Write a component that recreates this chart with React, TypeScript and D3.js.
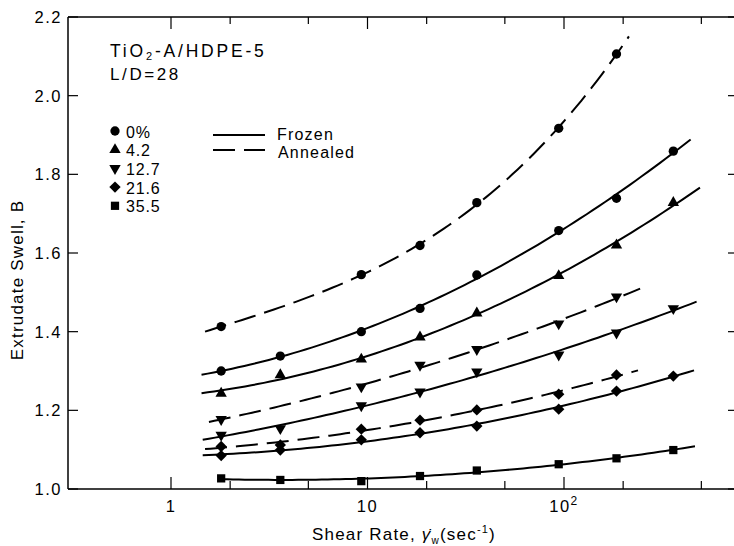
import React from 'react';
import * as d3 from 'd3';

// ---- data ----
const ratesAll = [1.8, 3.6, 9.3, 18.5, 36, 94, 185, 360];
const ratesAnnealed = [1.8, 9.3, 18.5, 36, 94, 185];
const ratesAnnealed21 = [1.8, 3.6, 9.3, 18.5, 36, 94, 185];

const annealed0 = [1.413, 1.545, 1.619, 1.728, 1.917, 2.106];
const frozen0 = [1.3, 1.338, 1.4, 1.459, 1.544, 1.657, 1.739, 1.859];
const frozen4 = [1.243, 1.29, 1.33, 1.386, 1.447, 1.542, 1.62, 1.728];
const annealed12 = [1.177, 1.26, 1.315, 1.355, 1.42, 1.489];
const frozen12 = [1.137, 1.154, 1.212, 1.247, 1.298, 1.341, 1.397, 1.459];
const annealed21 = [1.108, 1.112, 1.152, 1.175, 1.201, 1.241, 1.29];
const frozen21 = [1.085, 1.099, 1.125, 1.143, 1.16, 1.203, 1.249, 1.287];
const frozen35 = [1.027, 1.023, 1.02, 1.033, 1.047, 1.063, 1.078, 1.099];

// fitted-curve extents (shear rate where each drawn curve begins / ends) and fit degree
const curveStart = [1.49, 1.43, 1.43, 1.56, 1.45, 1.49, 1.45, 1.8];
const curveEnd = [214, 441, 492, 244, 473, 238, 459, 464];
const fitDegree = [3, 2, 2, 2, 2, 2, 2, 2];

const legendLabels = ['0%', '4.2', '12.7', '21.6', '35.5'];
const legendShapes = ['circle', 'up', 'down', 'diamond', 'square'];

const xMajorTicks = [1, 10, 100];
const xMinorTicks = [2, 5, 20, 50, 200, 500];
const yTicks = [1.0, 1.2, 1.4, 1.6, 1.8, 2.0, 2.2];

type Series = { xs: number[]; ys: number[]; shape: string; dashed: boolean };
const series: Series[] = [
  { xs: ratesAnnealed, ys: annealed0, shape: 'circle', dashed: true },
  { xs: ratesAll, ys: frozen0, shape: 'circle', dashed: false },
  { xs: ratesAll, ys: frozen4, shape: 'up', dashed: false },
  { xs: ratesAnnealed, ys: annealed12, shape: 'down', dashed: true },
  { xs: ratesAll, ys: frozen12, shape: 'down', dashed: false },
  { xs: ratesAnnealed21, ys: annealed21, shape: 'diamond', dashed: true },
  { xs: ratesAll, ys: frozen21, shape: 'diamond', dashed: false },
  { xs: ratesAll, ys: frozen35, shape: 'square', dashed: false },
];

// ---- layout ----
const W = 734;
const H = 546;
const left = 68;
const right = 737;
const top = 17;
const bottom = 489;
const FONT = '"Liberation Sans", Arial, sans-serif';

const x = d3
  .scaleLog()
  .domain([Math.pow(10, (left - 171) / 196.5), Math.pow(10, (right - 171) / 196.5)])
  .range([left, right]);
const y = d3.scaleLinear().domain([1.0, 2.2]).range([bottom, top]);

// least-squares polynomial fit in log10(x)
function polyfit(us: number[], vs: number[], deg: number): number[] {
  const n = deg + 1;
  const A: number[][] = Array.from({ length: n }, () => new Array(n + 1).fill(0));
  for (let k = 0; k < us.length; k++) {
    for (let i = 0; i < n; i++) {
      for (let j = 0; j < n; j++) A[i][j] += Math.pow(us[k], i + j);
      A[i][n] += vs[k] * Math.pow(us[k], i);
    }
  }
  for (let i = 0; i < n; i++) {
    let p = i;
    for (let r = i + 1; r < n; r++) if (Math.abs(A[r][i]) > Math.abs(A[p][i])) p = r;
    [A[i], A[p]] = [A[p], A[i]];
    for (let r = 0; r < n; r++) {
      if (r === i) continue;
      const f = A[r][i] / A[i][i];
      for (let c = i; c <= n; c++) A[r][c] -= f * A[i][c];
    }
  }
  return A.map((row, i) => row[n] / A[i][i]);
}

function symbolPath(shape: string): { d: string; rot: number } {
  switch (shape) {
    case 'circle':
      return { d: d3.symbol(d3.symbolCircle, 68)() as string, rot: 0 };
    case 'up':
      return { d: d3.symbol(d3.symbolTriangle, 56)() as string, rot: 0 };
    case 'down':
      return { d: d3.symbol(d3.symbolTriangle, 56)() as string, rot: 180 };
    case 'diamond':
      return { d: d3.symbol(d3.symbolSquare, 64)() as string, rot: 45 };
    default:
      return { d: d3.symbol(d3.symbolSquare, 68)() as string, rot: 0 };
  }
}

function Marker({ shape, cx, cy }: { shape: string; cx: number; cy: number }) {
  const s = symbolPath(shape);
  return <path d={s.d} transform={`translate(${cx},${cy}) rotate(${s.rot})`} fill="#000" />;
}

export default function App() {
  const line = d3
    .line<[number, number]>()
    .x((d) => x(d[0]))
    .y((d) => y(d[1]))
    .curve(d3.curveLinear);

  const curves = series.map((s, i) => {
    const us = s.xs.map((v) => Math.log10(v));
    const coef = polyfit(us, s.ys, fitDegree[i]);
    const u0 = Math.log10(curveStart[i]);
    const u1 = Math.log10(curveEnd[i]);
    const pts: [number, number][] = d3.range(0, 81).map((k) => {
      const u = u0 + ((u1 - u0) * k) / 80;
      const v = coef.reduce((acc, c, p) => acc + c * Math.pow(u, p), 0);
      return [Math.pow(10, u), v];
    });
    return line(pts) as string;
  });

  const textStyle = { fontFamily: FONT, fill: '#000' } as React.CSSProperties;
  const rowY = (i: number) => 131 + i * 18.7;

  return (
    <svg
      width={W}
      height={H}
      viewBox={`0 0 ${W} ${H}`}
      style={{ position: 'absolute', left: 0, top: 0, background: '#fff' }}
    >
      <rect x={0} y={0} width={W} height={H} fill="#fff" />
      {/* frame */}
      <g stroke="#000" strokeWidth={1.5} fill="none">
        <line x1={left} y1={top} x2={right} y2={top} />
        <line x1={left} y1={bottom} x2={right} y2={bottom} />
        <line x1={left} y1={top} x2={left} y2={bottom} />
        <line x1={right} y1={top} x2={right} y2={bottom} />
      </g>
      {/* ticks */}
      <g stroke="#000" strokeWidth={1.2}>
        {xMajorTicks.map((t) => (
          <g key={'M' + t}>
            <line x1={x(t)} x2={x(t)} y1={bottom} y2={bottom - 12} />
            <line x1={x(t)} x2={x(t)} y1={top} y2={top + 12} />
          </g>
        ))}
        {xMinorTicks.map((t) => (
          <g key={'m' + t}>
            <line x1={x(t)} x2={x(t)} y1={bottom} y2={bottom - 8} />
            <line x1={x(t)} x2={x(t)} y1={top} y2={top + 7} />
          </g>
        ))}
        {yTicks.map((t) => (
          <g key={'y' + t}>
            <line x1={left} x2={left + 10} y1={y(t)} y2={y(t)} />
            <line x1={right} x2={right - 9} y1={y(t)} y2={y(t)} />
          </g>
        ))}
      </g>
      {/* y tick labels */}
      {yTicks.map((t) => (
        <text
          key={'yl' + t}
          x={62}
          y={y(t) + 6}
          textAnchor="end"
          fontSize={16.5}
          letterSpacing={1.5}
          style={textStyle}
        >
          {t.toFixed(1)}
        </text>
      ))}
      {/* x tick labels */}
      {xMajorTicks.map((t) => (
        <text
          key={'xl' + t}
          x={x(t)}
          y={512}
          textAnchor="middle"
          fontSize={16.5}
          letterSpacing={1.5}
          style={textStyle}
        >
          {t === 100 ? (
            <>
              10<tspan dy={-7} fontSize={12}>2</tspan>
            </>
          ) : (
            String(t)
          )}
        </text>
      ))}
      {/* axis titles */}
      <text x={404} y={540} textAnchor="middle" fontSize={17} letterSpacing={1.2} style={textStyle}>
        Shear Rate,
        <tspan fontStyle="italic"> γ̇</tspan>
        <tspan fontSize={10} dy={4}>w</tspan>
        <tspan dy={-4}>(sec</tspan>
        <tspan fontSize={11} dy={-7}>-1</tspan>
        <tspan dy={7}>)</tspan>
      </text>
      <text
        transform={`translate(23,${280}) rotate(-90)`}
        textAnchor="middle"
        fontSize={17}
        letterSpacing={1.2}
        style={textStyle}
      >
        Extrudate Swell, B
      </text>
      {/* curves */}
      {curves.map((d, i) => (
        <path
          key={'c' + i}
          d={d}
          fill="none"
          stroke="#000"
          strokeWidth={2}
          strokeDasharray={series[i].dashed ? '22,9' : undefined}
        />
      ))}
      {/* markers */}
      {series.map((s, i) =>
        s.xs.map((v, j) => <Marker key={`p${i}-${j}`} shape={s.shape} cx={x(v)} cy={y(s.ys[j])} />)
      )}
      {/* annotation */}
      <text x={110} y={57} fontSize={17.5} letterSpacing={2.8} style={textStyle}>
        TiO<tspan fontSize={11} dy={3}>2</tspan>
        <tspan dy={-3}>-A/HDPE-5</tspan>
      </text>
      <text x={110} y={80} fontSize={17} letterSpacing={2.6} style={textStyle}>
        L/D=28
      </text>
      {/* legend: symbols */}
      {legendLabels.map((lab, i) => (
        <g key={'lg' + i}>
          <Marker shape={legendShapes[i]} cx={115} cy={rowY(i)} />
          <text x={126} y={rowY(i) + 6.5} fontSize={16} letterSpacing={0.8} style={textStyle}>
            {lab}
          </text>
        </g>
      ))}
      {/* legend: line styles */}
      <line x1={213} x2={265} y1={135} y2={135} stroke="#000" strokeWidth={2} />
      <text x={277} y={140} fontSize={16} letterSpacing={1.2} style={textStyle}>
        Frozen
      </text>
      <line x1={213} x2={265} y1={150} y2={150} stroke="#000" strokeWidth={2} strokeDasharray="22,9" />
      <text x={278} y={158} fontSize={16} letterSpacing={1.2} style={textStyle}>
        Annealed
      </text>
    </svg>
  );
}
